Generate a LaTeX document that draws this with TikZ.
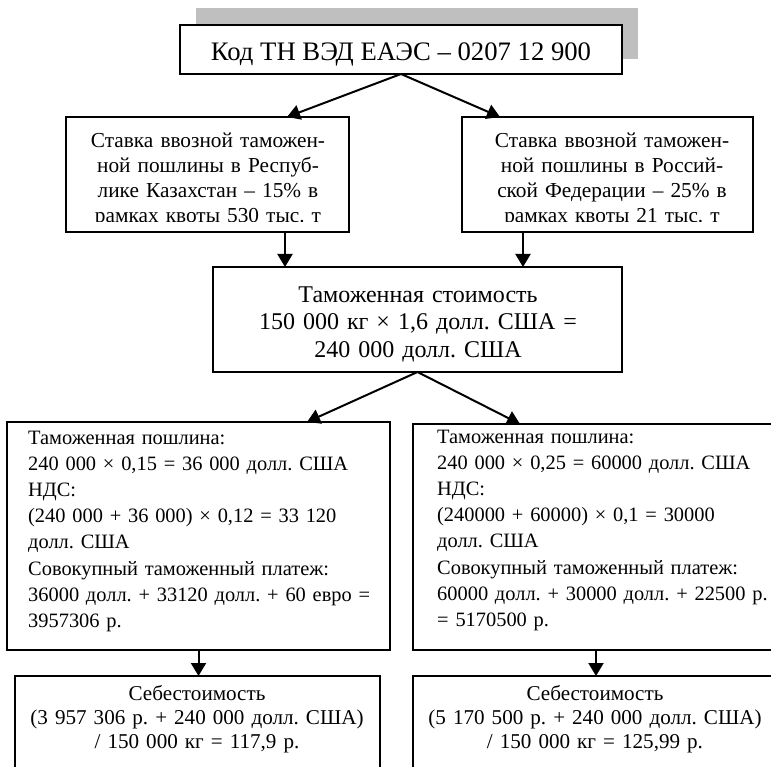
\documentclass[tikz,border=0pt]{standalone}
\usepackage{fontspec}
\setmainfont{Liberation Serif}
\usetikzlibrary{arrows.meta}
\frenchspacing

\tikzset{
  box/.style={draw, line width=2pt, fill=white, inner sep=0pt, outer sep=0pt},
  txt/.style={inner sep=0pt, anchor=base},
  midtext/.style={txt, text width=270pt, align=center, font=\fontsize{21.3}{24.7}\selectfont},
  lowtext/.style={txt, anchor=base west, align=left, font=\fontsize{20.4}{26.2}\selectfont},
  endtext/.style={txt, text width=360pt, align=center, font=\fontsize{21.1}{24}\selectfont},
  arr/.style={line width=2pt, -{Triangle[length=13pt,width=15pt]}}
}

\begin{document}
\begin{tikzpicture}[x=1pt, y=-1pt]
	\useasboundingbox (0,0) rectangle (771,767);
	\clip (0,0) rectangle (771,767);

	\fill[black!25] (196,8) rectangle (638,59);
	\node[box, minimum width=442pt, minimum height=49pt] (0) at (401,49.5) {};
	\node[txt, font=\fontsize{26.7}{30}\selectfont] (0t) at (401,61) {Код ТН ВЭД ЕАЭС – 0207 12 900};

	\node[box, minimum width=283pt, minimum height=115pt] (1) at (207.5,174.5) {};
	\node[box, minimum width=291pt, minimum height=115pt] (2) at (607.5,174.5) {};
	\begin{scope}
		\clip (1.north west) rectangle (2.east |- 0,221.5);
		\node[midtext] (1t) at (208,148) {Ставка ввозной таможен-\\ной пошлины в Респуб-\\лике Казахстан – 15\% в\\рамках квоты 530 тыс. т};
		\node[midtext] (2t) at (612,148) {Ставка ввозной таможен-\\ной пошлины в Россий-\\ской Федерации – 25\% в\\рамках квоты 21 тыс. т};
	\end{scope}

	\node[box, minimum width=409pt, minimum height=105pt] (3) at (417.5,319.5) {};
	\node[txt, text width=400pt, align=center, font=\fontsize{24}{27.5}\selectfont] (3t) at (418,302)
		{Таможенная стоимость\\150 000 кг × 1,6 долл. США =\\240 000 долл. США};

	\node[box, minimum width=383pt, minimum height=228pt] (4) at (198.5,536) {};
	\node[box, minimum width=366pt, minimum height=226pt] (5) at (596,537) {};
	\node[lowtext, text width=342pt] (4t) at (28,444) {Таможенная пошлина:\\
		240 000 × 0,15 = 36 000 долл. США\\
		НДС:\\
		\makebox[\linewidth][s]{(240 000 + 36 000) × 0,12 = 33 120}\\
		долл. США\\
		Совокупный таможенный платеж:\\
		\makebox[\linewidth][s]{36000 долл. + 33120 долл. + 60 евро =}\\
		3957306 р.};
	\node[lowtext, text width=316pt] (5t) at (437,443) {Таможенная пошлина:\\
		240 000 × 0,25 = 60000 долл. США\\
		НДС:\\
		\makebox[\linewidth][s]{(240000 + 60000) × 0,1 = 30000}\\
		долл. США\\
		Совокупный таможенный платеж:\\
		\makebox[\linewidth][s]{60000 долл. + 30000 долл. + 22500 р.}\\
		= 5170500 р.};

	\node[box, minimum width=365pt, minimum height=124pt] (6) at (197.5,738) {};
	\node[box, minimum width=366pt, minimum height=124pt] (7) at (596,738) {};
	\node[endtext] (6t) at (197,700) {Себестоимость\\(3 957 306 р. + 240 000 долл. США)\\/ 150 000 кг = 117,9 р.};
	\node[endtext] (7t) at (595,700) {Себестоимость\\(5 170 500 р. + 240 000 долл. США)\\/ 150 000 кг = 125,99 р.};

	\path [arr] (0.south) edge (1.north -| 287,0);
	\path [arr] (0.south) edge (2.north -| 500,0);
	\path [arr] (1.south -| 285,0) edge (3.north -| 285,0);
	\path [arr] (2.south -| 523,0) edge (3.north -| 523,0);
	\path [arr] (3.south) edge (4.north -| 307,0);
	\path [arr] (3.south) edge (5.north -| 520,0);
	\path [arr] (4.south) edge (4.south |- 6.north);
	\path [arr] (5.south) edge (7.north);
\end{tikzpicture}
\end{document}
